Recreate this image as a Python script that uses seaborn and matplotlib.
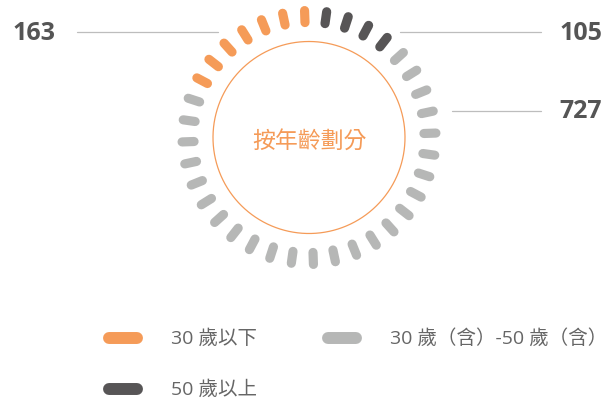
import numpy as np
import pandas as pd
import matplotlib
matplotlib.use("Agg")
import matplotlib.pyplot as plt
import seaborn as sns

# data
categories = ["30 歲以下", "30 歲（含）-50 歲（含）", "50 歲以上"]
counts = [163, 727, 105]
dash_counts = [7, 25, 4]          # dashes per group on the ring
colors = ["#F59B58", "#B6B7B6", "#575556"]
center_title = "按年齡劃分"

sns.set_theme(style="white")
plt.rcParams["font.family"] = ["Open Sans", "Noto Sans CJK TC", "DejaVu Sans"]

# ring: clockwise from just right of 12 o'clock -> 50+ , 30-50, <30
order = [2, 1, 0]
step = 10.0
start = 8.0
rows = []
k = 0
for g in order:
    for i in range(dash_counts[g]):
        th = np.deg2rad(start + step * k)
        rows.append({"theta": th, "r": 115, "group": categories[g], "seg": k})
        rows.append({"theta": th, "r": 127, "group": categories[g], "seg": k})
        k += 1
df = pd.DataFrame(rows)

fig = plt.figure(figsize=(6.14, 4.02), dpi=100)
W, H = 614, 402
cx, cy, R = 309, 138.5, 140

pax = fig.add_axes([(cx - R) / W, (H - cy - R) / H, 2 * R / W, 2 * R / H],
                   projection="polar")
pax.set_theta_zero_location("N")
pax.set_theta_direction(-1)
sns.lineplot(data=df, x="theta", y="r", hue="group", units="seg",
             estimator=None, sort=False, legend=False, ax=pax,
             palette=dict(zip(categories, colors)),
             linewidth=6.6, solid_capstyle="round")
t = np.linspace(0, 2 * np.pi, 400)
pax.plot(t, np.full_like(t, 96), color=colors[0], lw=0.9)
pax.set_ylim(0, R)
pax.set_axis_off()
pax.patch.set_alpha(0)

# overlay in pixel coordinates for labels and legend
ov = fig.add_axes([0, 0, 1, 1], zorder=-1)
ov.set_xlim(0, W)
ov.set_ylim(H, 0)
ov.set_axis_off()

ov.text(cx, 141, center_title, color=colors[0], fontsize=16.5,
        ha="center", va="center", family=["Noto Sans CJK TC"], fontweight="light")

lab_col = "#555555"
line_col = "#BDBDBD"
# 30歲以下
ov.plot([77, 218], [33, 33], color=line_col, lw=0.9)
ov.text(13, 33, str(counts[0]), color=lab_col, fontsize=18, fontweight="bold",
        ha="left", va="center")
# 50歲以上
ov.plot([400, 541], [33, 33], color=line_col, lw=0.9)
ov.text(602, 33, str(counts[2]), color=lab_col, fontsize=18, fontweight="bold",
        ha="right", va="center")
# 30-50
ov.plot([452, 541], [112, 112], color=line_col, lw=0.9)
ov.text(602, 112, str(counts[1]), color=lab_col, fontsize=18, fontweight="bold",
        ha="right", va="center")

# legend
leg_pos = [(109, 338.5), (328, 338.5), (109, 389.5)]
for (x, y), name, c in zip(leg_pos, categories, colors):
    ov.plot([x, x + 28], [y, y], color=c, lw=8.6, solid_capstyle="round")
    ov.text(x + 62, y, name, color="#666666", fontsize=14, ha="left", va="center")

fig.savefig("out.png", dpi=100)
